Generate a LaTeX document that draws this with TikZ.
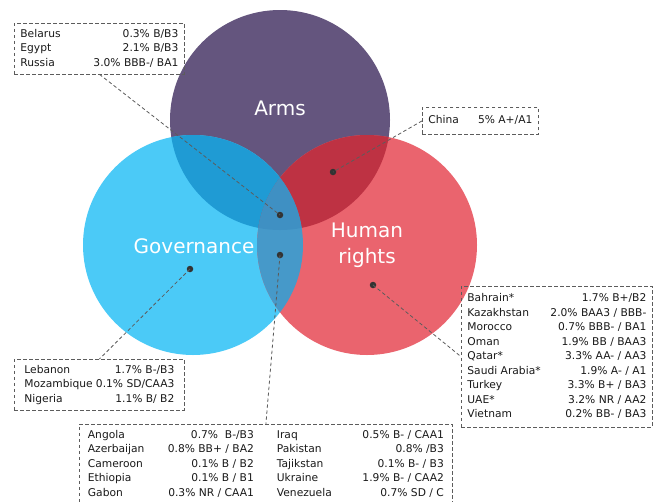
\documentclass[tikz,border=0pt]{standalone}
\usepackage{fontspec}
\setmainfont{DejaVu Sans}
\usepackage{xcolor}

\definecolor{armscol}{HTML}{64557E}
\definecolor{govcol}{HTML}{4BCAF7}
\definecolor{hrcol}{HTML}{EA646E}
\definecolor{armsgov}{HTML}{1F9BD4}
\definecolor{armshr}{HTML}{BE3243}
\definecolor{govhr}{HTML}{4699C9}
\definecolor{allthree}{HTML}{3F90C3}
\definecolor{boxline}{HTML}{5C5C5C}

\newcommand{\rating}[2]{#1 & #2 \\}
\newenvironment{ratings}[1]{\begin{tabular*}{#1}{@{}l@{\extracolsep{\fill}}r@{}}}{\end{tabular*}}

\begin{document}
\begin{tikzpicture}[x=1pt, y=-1pt,
    bigtext/.style={text=white, font=\fontsize{20}{26}\selectfont, align=center},
    listbox/.style={draw=boxline, dash pattern=on 3.5pt off 2.5pt, line width=0.8pt,
      inner xsep=6pt, inner ysep=3.5pt, anchor=north west, text=black!90,
      font=\fontsize{10.7}{14.5}\selectfont},
    dot/.style={circle, fill=black!80, inner sep=0pt, minimum size=6.5pt},
    leader/.style={draw=boxline, dash pattern=on 3.5pt off 2.5pt, line width=0.8pt}]
  \useasboundingbox (0,0) rectangle (663,501);

  \coordinate (armsc) at (280,120);
  \coordinate (govc) at (193,245);
  \coordinate (hrc) at (367,245);

  \fill[armscol] (armsc) circle (110);
  \fill[govcol] (govc) circle (110);
  \fill[hrcol] (hrc) circle (110);
  \begin{scope}
    \clip (armsc) circle (110);
    \fill[armsgov] (govc) circle (110);
    \fill[armshr] (hrc) circle (110);
  \end{scope}
  \begin{scope}
    \clip (govc) circle (110);
    \fill[govhr] (hrc) circle (110);
    \clip (armsc) circle (110);
    \fill[allthree] (hrc) circle (110);
  \end{scope}

  \node[bigtext] (armslbl) at (280,108) {Arms};
  \node[bigtext] (govlbl) at (194,246) {Governance};
  \node[bigtext] (hrlbl) at (367,245) {Human\\rights};

  \node[dot] (mid) at (280,215) {};
  \node[dot] (armshrdot) at (333,172) {};
  \node[dot] (govhrdot) at (280,255) {};
  \node[dot] (govdot) at (190,269) {};
  \node[dot] (hrdot) at (373,285) {};

  \node[listbox] (allbox) at (14,23) {\begin{ratings}{158pt}
    \rating{Belarus}{0.3\% B/B3}
    \rating{Egypt}{2.1\% B/B3}
    \rating{Russia}{3.0\% BBB-/ BA1}
  \end{ratings}};
  \node[listbox, inner ysep=6.25pt] (chinabox) at (422,107) {\begin{ratings}{104pt}
    \rating{China}{5\% A+/A1}
  \end{ratings}};
  \node[listbox, inner ysep=5pt] (hrbox) at (461,286) {\begin{ratings}{179pt}
    \rating{Bahrain*}{1.7\% B+/B2}
    \rating{Kazakhstan}{2.0\% BAA3 / BBB-}
    \rating{Morocco}{0.7\% BBB- / BA1}
    \rating{Oman}{1.9\% BB / BAA3}
    \rating{Qatar*}{3.3\% AA- / AA3}
    \rating{Saudi Arabia*}{1.9\% A- / A1}
    \rating{Turkey}{3.3\% B+ / BA3}
    \rating{UAE*}{3.2\% NR / AA2}
    \rating{Vietnam}{0.2\% BB- / BA3}
  \end{ratings}};
  \node[listbox, inner xsep=10pt] (govbox) at (14,359) {\begin{ratings}{150pt}
    \rating{Lebanon}{1.7\% B-/B3}
    \rating{Mozambique}{0.1\% SD/CAA3}
    \rating{Nigeria}{1.1\% B/ B2}
  \end{ratings}};
  \node[listbox, inner xsep=8.5pt] (govhrbox) at (79,424) {\begin{ratings}{166pt}
    \rating{Angola}{0.7\%\ \ B-/B3}
    \rating{Azerbaijan}{0.8\% BB+ / BA2}
    \rating{Cameroon}{0.1\% B / B2}
    \rating{Ethiopia}{0.1\% B / B1}
    \rating{Gabon}{0.3\% NR / CAA1}
  \end{ratings}\hspace{23pt}\begin{ratings}{167pt}
    \rating{Iraq}{0.5\% B- / CAA1}
    \rating{Pakistan}{0.8\% /B3}
    \rating{Tajikstan}{0.1\% B- / B3}
    \rating{Ukraine}{1.9\% B- / CAA2}
    \rating{Venezuela}{0.7\% SD / C}
  \end{ratings}};

  \draw[leader] (allbox.south) -- (mid.center);
  \draw[leader] (chinabox.west) -- (armshrdot.center);
  \draw[leader] (hrdot.center) -- (hrbox.west);
  \draw[leader] (govdot.center) -- (govbox.north);
  \draw[leader] (govhrdot.center) -- (govhrbox.north);
\end{tikzpicture}
\end{document}
